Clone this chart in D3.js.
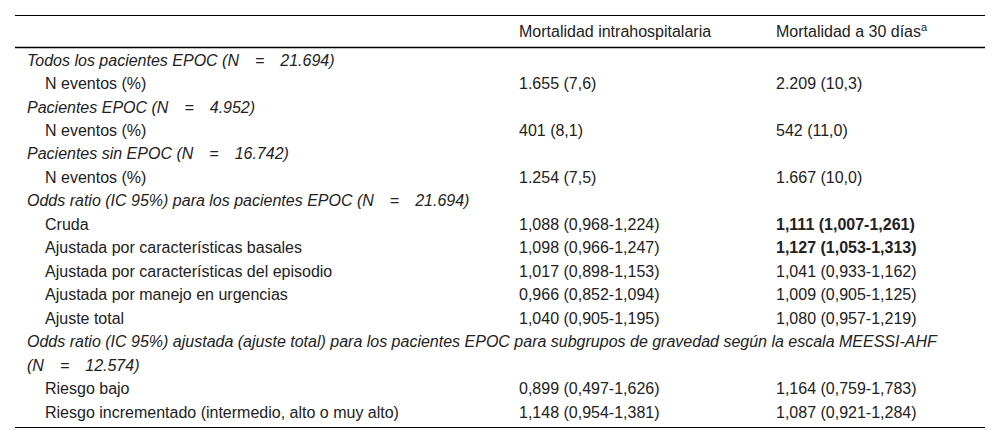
<!DOCTYPE html>
<html><head><meta charset="utf-8">
<script src="https://cdn.jsdelivr.net/npm/d3@7"></script>
<style>body{margin:0;background:#fff}</style>
</head><body>
<svg id="chart"></svg>
<script>
var W = 1000, H = 444;

// header
var colHeaders = ["Mortalidad intrahospitalaria", "Mortalidad a 30 días"];

// row labels (type: g = group italic, s = sub-row indented)
var rowLabels = [
  ["g", "Todos los pacientes EPOC (N\u2003=\u200321.694)"],
  ["s", "N eventos (%)"],
  ["g", "Pacientes EPOC (N\u2003=\u20034.952)"],
  ["s", "N eventos (%)"],
  ["g", "Pacientes sin EPOC (N\u2003=\u200316.742)"],
  ["s", "N eventos (%)"],
  ["g", "Odds ratio (IC 95%) para los pacientes EPOC (N\u2003=\u200321.694)"],
  ["s", "Cruda"],
  ["s", "Ajustada por características basales"],
  ["s", "Ajustada por características del episodio"],
  ["s", "Ajustada por manejo en urgencias"],
  ["s", "Ajuste total"],
  ["g", "Odds ratio (IC 95%) ajustada (ajuste total) para los pacientes EPOC para subgrupos de gravedad según la escala MEESSI-AHF", "(N\u2003=\u200312.574)"],
  ["s", "Riesgo bajo"],
  ["s", "Riesgo incrementado (intermedio, alto o muy alto)"]
];

var mortHosp = ["", "1.655 (7,6)", "", "401 (8,1)", "", "1.254 (7,5)", "",
  "1,088 (0,968-1,224)", "1,098 (0,966-1,247)", "1,017 (0,898-1,153)",
  "0,966 (0,852-1,094)", "1,040 (0,905-1,195)", "",
  "0,899 (0,497-1,626)", "1,148 (0,954-1,381)"];
var mort30 = ["", "2.209 (10,3)", "", "542 (11,0)", "", "1.667 (10,0)", "",
  "1,111 (1,007-1,261)", "1,127 (1,053-1,313)", "1,041 (0,933-1,162)",
  "1,009 (0,905-1,125)", "1,080 (0,957-1,219)", "",
  "1,164 (0,759-1,783)", "1,087 (0,921-1,284)"];
var bold30 = [7, 8];

var svg = d3.select("#chart").attr("width", W).attr("height", H)
  .style("font-family", "'Liberation Sans', Arial, sans-serif")
  .style("font-size", "16px");

// line slots: each row takes 1, wrapped row takes 2
var slots = [];
rowLabels.forEach(function(r, i) {
  slots.push(i + "a");
  if (r[2]) slots.push(i + "b");
});
var y = d3.scalePoint().domain(slots).range([60, 412]);
var x = d3.scaleOrdinal().domain(["g", "s", "c1", "c2"]).range([27, 45, 519, 776]);

svg.append("line").attr("x1", 15).attr("x2", 985).attr("y1", 15.5).attr("y2", 15.5).attr("stroke", "#000");
svg.append("line").attr("x1", 15).attr("x2", 985).attr("y1", 47.5).attr("y2", 47.5).attr("stroke", "#000").attr("stroke-width", 1.5);
svg.append("line").attr("x1", 15).attr("x2", 985).attr("y1", 427.5).attr("y2", 427.5).attr("stroke", "#000");

var hdr = svg.selectAll(".hdr").data(colHeaders).enter().append("text")
  .attr("x", function(d, i) { return x(i ? "c2" : "c1"); })
  .attr("y", 31).attr("dy", "0.35em").attr("fill", "#222").text(function(d) { return d; });
hdr.filter(function(d, i) { return i == 1; }).append("tspan")
  .attr("dy", "-0.5em").style("font-size", "11px").text("a");

rowLabels.forEach(function(r, i) {
  svg.append("text").attr("x", x(r[0])).attr("y", y(i + "a")).attr("dy", "0.35em")
    .attr("fill", "#222").style("font-style", r[0] == "g" ? "italic" : "normal").text(r[1]);
  if (r[2]) svg.append("text").attr("x", x(r[0])).attr("y", y(i + "b")).attr("dy", "0.35em")
    .attr("fill", "#222").style("font-style", "italic").text(r[2]);
  svg.append("text").attr("x", x("c1")).attr("y", y(i + "a")).attr("dy", "0.35em")
    .attr("fill", "#222").text(mortHosp[i]);
  svg.append("text").attr("x", x("c2")).attr("y", y(i + "a")).attr("dy", "0.35em")
    .attr("fill", "#222").style("font-weight", bold30.indexOf(i) >= 0 ? "bold" : "normal").text(mort30[i]);
});
</script>
</body></html>
